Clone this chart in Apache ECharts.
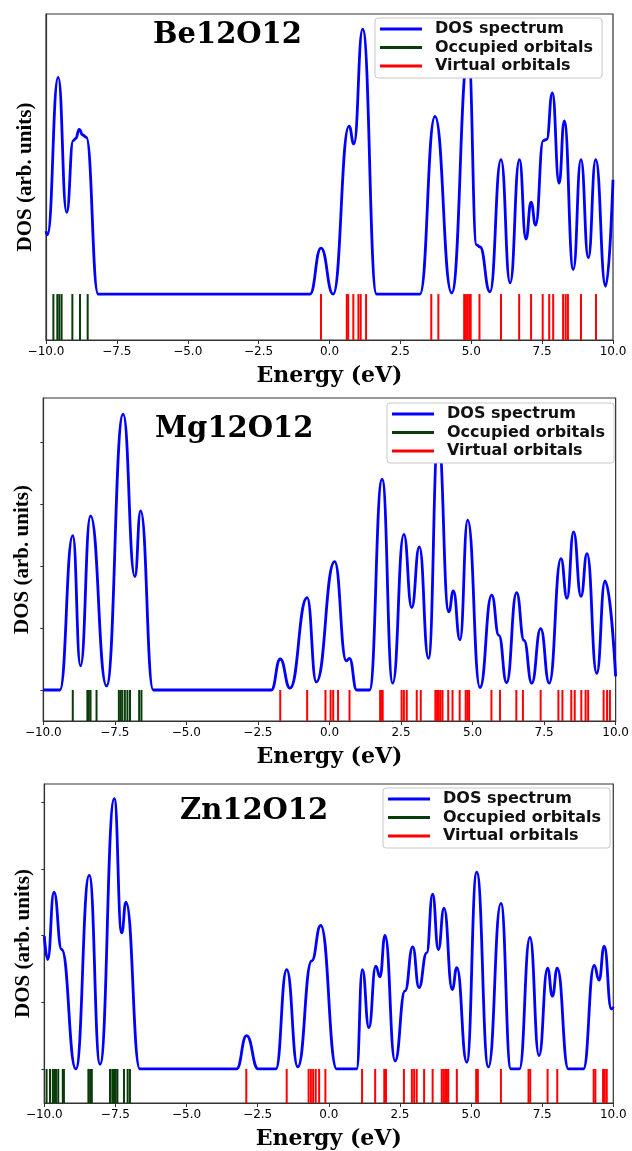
<!DOCTYPE html>
<html><head><meta charset="utf-8">
<script src="https://cdn.jsdelivr.net/npm/echarts@6/dist/echarts.min.js"></script>
<style>html,body{margin:0;padding:0;background:#fff}#c{width:632px;height:1151px}</style>
</head><body><div id="c"></div>
<script>
// ---------------- data ----------------
const panelTitles = ['Be12O12', 'Mg12O12', 'Zn12O12'];
const seriesNames = ['DOS spectrum', 'Occupied orbitals', 'Virtual orbitals'];
const xTicks = [-10, -7.5, -5, -2.5, 0, 2.5, 5, 7.5, 10];
const xTickLabels = ['\u221210.0', '\u22127.5', '\u22125.0', '\u22122.5', '0.0', '2.5', '5.0', '7.5', '10.0'];
const yTickValues = [0, 1, 2, 3, 4];

// Be12O12
const beDOS = [
  [-10, 1.12], [-9.95, 1.06], [-9.57, 3.87], [-9.27, 1.46], [-9.04, 2.74], [-8.95, 2.78],
  [-8.83, 2.94], [-8.70, 2.84], [-8.58, 2.80], [-8.16, 0], [-0.69, 0], [-0.30, 0.82],
  [0.13, 0], [0.69, 3.00], [0.86, 2.68], [1.17, 4.73], [1.66, 0], [3.19, 0], [3.72, 3.17],
  [4.31, 0.02], [4.90, 4.30], [5.19, 0.88], [5.31, 0.84], [5.66, 0.04], [6.05, 2.40],
  [6.37, 0.20], [6.70, 2.40], [6.93, 0.98], [7.11, 1.64], [7.27, 1.23], [7.54, 2.74],
  [7.66, 2.76], [7.86, 3.59], [8.10, 1.98], [8.28, 3.09], [8.60, 0.44], [8.87, 2.40],
  [9.13, 0.65], [9.39, 2.40], [9.74, 0.14], [10, 2.04]
];
const beOccupied = [-9.74, -9.60, -9.53, -9.45, -9.07, -8.80, -8.53];
const beVirtual = [-0.30, 0.61, 0.66, 0.84, 1.02, 1.10, 1.29, 3.59, 3.84, 4.75, 4.81, 4.87,
  4.93, 4.98, 5.29, 6.05, 6.69, 7.11, 7.52, 7.75, 7.89, 8.24, 8.33, 8.41, 8.87, 9.40];

// Mg12O12
const mgDOS = [
  [-10, 0], [-9.42, 0], [-8.97, 2.49], [-8.70, 0.39], [-8.35, 2.81], [-7.79, 0.065],
  [-7.21, 4.45], [-6.80, 1.83], [-6.60, 2.89], [-6.16, 0], [-2.03, 0], [-1.72, 0.50],
  [-1.38, 0.03], [-0.78, 1.49], [-0.46, 0.13], [0.18, 2.07], [0.59, 0.47], [0.70, 0.51],
  [0.95, 0], [1.40, 0], [1.84, 3.40], [2.21, 0.11], [2.60, 2.51], [2.875, 1.33],
  [3.14, 2.31], [3.46, 0.51], [3.80, 4.10], [4.17, 1.26], [4.33, 1.60], [4.56, 0.81],
  [4.83, 2.74], [5.26, 0.04], [5.67, 1.53], [5.92, 0.88], [6.19, 0.12], [6.54, 1.57],
  [6.80, 0.80], [7.07, 0.11], [7.38, 0.99], [7.68, 0.11], [8.09, 2.12], [8.30, 1.48],
  [8.53, 2.55], [8.79, 1.51], [9.00, 2.20], [9.34, 0.27], [9.63, 1.76], [10, 0.22]
];
const mgOccupied = [-8.97, -8.46, -8.41, -8.35, -8.14, -7.36, -7.30, -7.24, -7.15, -7.06,
  -6.97, -6.65, -6.57];
const mgVirtual = [-1.72, -0.78, -0.14, 0.04, 0.13, 0.30, 0.70, 1.77, 1.81, 1.86, 2.52,
  2.60, 2.70, 3.05, 3.19, 3.70, 3.76, 3.82, 3.88, 3.95, 4.15, 4.30, 4.55, 4.76, 4.82, 4.88,
  5.66, 5.96, 6.53, 6.76, 7.38, 8.00, 8.14, 8.45, 8.57, 8.80, 8.95, 9.04, 9.58, 9.70, 9.80];

// Zn12O12
const znDOS = [
  [-10, 1.99], [-9.88, 1.64], [-9.66, 2.65], [-9.39, 1.79], [-8.89, 0], [-8.42, 2.90],
  [-8.04, 0.07], [-7.54, 4.05], [-7.28, 2.04], [-7.13, 2.50], [-6.64, 0], [-3.24, 0],
  [-2.89, 0.50], [-2.48, 0], [-1.86, 0], [-1.48, 1.49], [-1.09, 0.03], [-0.60, 1.62],
  [-0.285, 2.15], [0.28, 0], [0.98, 0], [1.18, 1.49], [1.41, 0.62], [1.65, 1.54],
  [1.80, 1.38], [1.975, 2.00], [2.33, 0.12], [2.68, 1.17], [2.95, 1.83], [3.17, 1.22],
  [3.44, 1.74], [3.65, 2.62], [3.85, 1.79], [4.05, 2.41], [4.34, 1.19], [4.50, 1.52],
  [4.85, 0.10], [5.20, 2.95], [5.61, 0.03], [6.05, 2.48], [6.40, 0], [6.70, 0],
  [7.07, 1.97], [7.39, 0.20], [7.69, 1.51], [7.86, 1.09], [8.03, 1.51], [8.42, 0],
  [8.95, 0], [9.33, 1.55], [9.50, 1.33], [9.68, 1.84], [9.93, 0.90], [10, 0.93]
];
const znOccupied = [-9.92, -9.80, -9.70, -9.65, -9.59, -9.51, -9.35, -9.31, -8.45, -8.39,
  -8.33, -7.69, -7.61, -7.55, -7.49, -7.43, -7.20, -7.07, -6.99];
const znVirtual = [-2.90, -1.48, -0.71, -0.63, -0.55, -0.46, -0.34, -0.12, 1.17, 1.63,
  1.95, 2.01, 2.64, 2.92, 3.00, 3.09, 3.35, 3.65, 3.97, 4.03, 4.09, 4.15, 4.20, 4.50,
  5.18, 5.24, 6.05, 7.02, 7.08, 7.69, 8.03, 9.31, 9.37, 9.64, 9.70, 9.77];

const dosData = [beDOS, mgDOS, znDOS];
const occData = [beOccupied, mgOccupied, znOccupied];
const virData = [beVirtual, mgVirtual, znVirtual];

// ---------------- layout / style ----------------
const layout = [
  { left: 46, top: 14, width: 567, height: 326, yMin: -0.82, yMax: 5.0, yTicks: false,
    tl: 153, tt: 21, ll: 375, lt: 18 },
  { left: 43.3, top: 398, width: 573.2, height: 323, yMin: -0.5, yMax: 4.71, yTicks: true,
    tl: 155, tt: 415, ll: 387, lt: 403 },
  { left: 44.3, top: 784, width: 569, height: 320, yMin: -0.51, yMax: 4.27, yTicks: true,
    tl: 180, tt: 797, ll: 383, lt: 788 }
];
const COL_DOS = '#0000ff', COL_OCC = '#083c08', COL_VIR = '#ff0000';

function stickSeries(name, data, color, i) {
  const yMin = layout[i].yMin;
  return {
    type: 'custom', name, xAxisIndex: i, yAxisIndex: i,
    itemStyle: { color },
    data: data.map(e => [e, 0]),
    encode: { x: 0, y: 1 },
    silent: true,
    renderItem: (params, api) => {
      const e = api.value(0);
      const p0 = api.coord([e, 0]);
      const p1 = api.coord([e, yMin]);
      return { type: 'line', shape: { x1: p0[0], y1: p0[1], x2: p1[0], y2: p1[1] },
        style: { stroke: color, lineWidth: 2 } };
    },
    z: 2
  };
}

const option = {
  animation: false,
  backgroundColor: '#fff',
  grid: layout.map(l => ({ left: l.left, top: l.top, width: l.width, height: l.height,
    show: true, borderColor: '#333', borderWidth: 1.2, backgroundColor: 'transparent', containLabel: false })),
  title: layout.map((l, i) => ({ text: panelTitles[i], left: l.tl, top: l.tt, padding: 0,
    textStyle: { fontFamily: 'DejaVu Serif', fontWeight: 'bold', fontSize: 29, color: '#000', lineHeight: 29 } })),
  legend: layout.map((l, i) => ({
    data: seriesNames, left: l.ll, top: l.lt, orient: 'vertical', icon: 'rect',
    itemWidth: 42, itemHeight: 3, itemGap: 2.5, padding: [3, 9, 4, 5],
    borderColor: '#c8c8c8', borderWidth: 1, borderRadius: 3,
    backgroundColor: '#ffffff', selectedMode: false, z: 20,
    textStyle: { fontFamily: 'DejaVu Sans', fontSize: 16, fontWeight: 'bold', color: '#111',
      lineHeight: 16, padding: [0, 0, 0, 8] }
  })),
  xAxis: layout.map((l, i) => ({
    type: 'value', gridIndex: i, min: -10, max: 10, interval: 2.5,
    name: 'Energy (eV)', nameLocation: 'middle', nameGap: 25,
    nameTextStyle: { fontFamily: 'DejaVu Serif', fontWeight: 'bold', fontSize: 22, color: '#000' },
    axisLine: { show: true, onZero: false, lineStyle: { color: '#333', width: 1.2 } },
    axisTick: { show: true, length: 4, lineStyle: { color: '#333' } },
    axisLabel: { margin: 6, fontFamily: 'DejaVu Sans', fontSize: 12, color: '#000',
      showMinLabel: true, showMaxLabel: true,
      formatter: v => { const k = xTicks.findIndex(t => Math.abs(t - v) < 1e-6); return k >= 0 ? xTickLabels[k] : ''; } },
    splitLine: { show: false }
  })),
  yAxis: layout.map((l, i) => ({
    type: 'value', gridIndex: i, min: l.yMin, max: l.yMax,
    name: 'DOS (arb. units)', nameLocation: 'middle', nameGap: 10,
    nameTextStyle: { fontFamily: 'Liberation Serif', fontWeight: 'bold', fontSize: 21, color: '#000' },
    axisLine: { show: true, onZero: false, lineStyle: { color: '#333', width: 1.2 } },
    axisTick: l.yTicks ? { show: true, length: 3, customValues: yTickValues, lineStyle: { color: '#333' } } : { show: false },
    axisLabel: { show: false },
    splitLine: { show: false }
  })),
  series: []
};

layout.forEach((l, i) => {
  option.series.push({
    type: 'line', name: seriesNames[0], xAxisIndex: i, yAxisIndex: i,
    data: dosData[i], smooth: 0.5, smoothMonotone: 'x', showSymbol: false, symbol: 'none',
    lineStyle: { color: COL_DOS, width: 2.8 }, itemStyle: { color: COL_DOS }, z: 3, silent: true
  });
  option.series.push(stickSeries(seriesNames[1], occData[i], COL_OCC, i));
  option.series.push(stickSeries(seriesNames[2], virData[i], COL_VIR, i));
});

const chart = echarts.init(document.getElementById('c'), null, { renderer: 'canvas' });
chart.setOption(option);
</script>
</body></html>
